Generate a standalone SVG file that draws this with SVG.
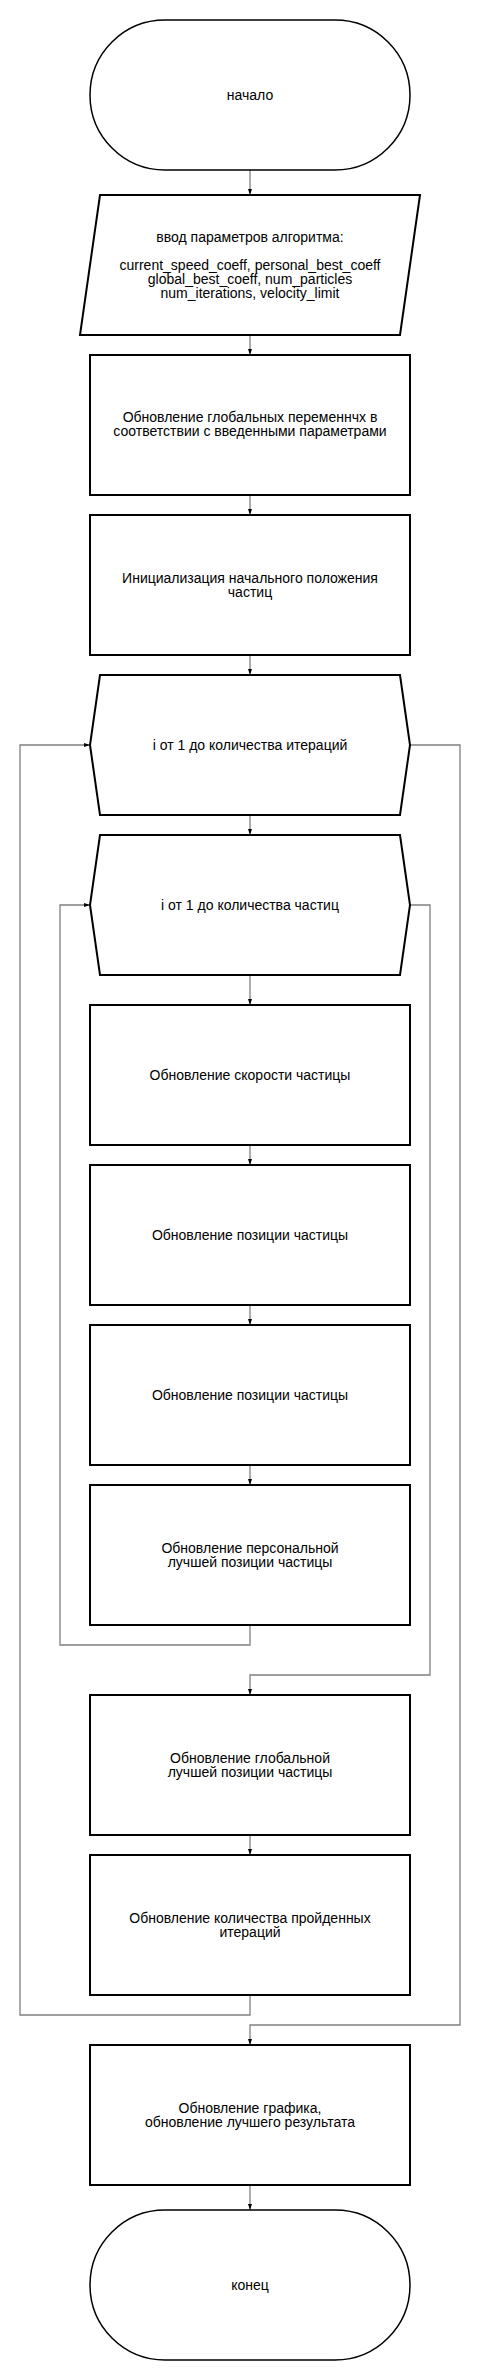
<svg xmlns="http://www.w3.org/2000/svg" width="480" height="2380" viewBox="0 0 480 2380">
<defs>
<style>
.n{fill:#fff;stroke:#000;stroke-width:2}
.t{fill:#fff;stroke:#000;stroke-width:1.5}
.c{fill:none;stroke:#808080;stroke-width:1.3}
text{font-family:"Liberation Sans",Arial,sans-serif;font-size:14px;fill:#000;text-anchor:middle}
</style>
<marker id="a" markerUnits="userSpaceOnUse" markerWidth="6" markerHeight="6" viewBox="0 0 6 6" refX="6" refY="3" orient="auto">
<path d="M0,1 L6,3 L0,5 Z" fill="#000"/>
</marker>
</defs>
<rect width="480" height="2380" fill="#fff"/>
<g id="connectors">
<path class="c" marker-end="url(#a)" d="M250,170 V195"/>
<path class="c" marker-end="url(#a)" d="M250,335 V355"/>
<path class="c" marker-end="url(#a)" d="M250,495 V515"/>
<path class="c" marker-end="url(#a)" d="M250,655 V675"/>
<path class="c" marker-end="url(#a)" d="M250,815 V835"/>
<path class="c" marker-end="url(#a)" d="M250,975 V1005"/>
<path class="c" marker-end="url(#a)" d="M250,1145 V1165"/>
<path class="c" marker-end="url(#a)" d="M250,1305 V1325"/>
<path class="c" marker-end="url(#a)" d="M250,1465 V1485"/>
<path class="c" marker-end="url(#a)" d="M250,1625 V1645 H60 V905 H90"/>
<path class="c" marker-end="url(#a)" d="M410,905 H430 V1675 H250 V1695"/>
<path class="c" marker-end="url(#a)" d="M250,1835 V1855"/>
<path class="c" marker-end="url(#a)" d="M250,1995 V2015 H20 V745 H90"/>
<path class="c" marker-end="url(#a)" d="M410,745 H460 V2025 H250 V2045"/>
<path class="c" marker-end="url(#a)" d="M250,2185 V2210"/>
</g>
<g id="start"><rect class="t" x="90" y="20" width="320" height="150" rx="75" ry="75"/><text x="250" y="100">начало</text></g>
<g id="input"><polygon class="n" points="100,195 420,195 400,335 80,335"/>
<text x="250" y="242">ввод параметров алгоритма:</text>
<text x="250" y="270">current_speed_coeff, personal_best_coeff</text>
<text x="250" y="284">global_best_coeff, num_particles</text>
<text x="250" y="298">num_iterations, velocity_limit</text></g>
<g id="globals"><rect class="n" x="90" y="355" width="320" height="140"/><text x="250" y="422">Обновление глобальных переменнчх в</text><text x="250" y="436">соответствии с введенными параметрами</text></g>
<g id="init"><rect class="n" x="90" y="515" width="320" height="140"/><text x="250" y="583">Инициализация начального положения</text><text x="250" y="597">частиц</text></g>
<g id="loop-iter"><polygon class="n" points="100,675 400,675 410,745 400,815 100,815 90,745"/><text x="250" y="750">i от 1 до количества итераций</text></g>
<g id="loop-part"><polygon class="n" points="100,835 400,835 410,905 400,975 100,975 90,905"/><text x="250" y="910">i от 1 до количества частиц</text></g>
<g id="speed"><rect class="n" x="90" y="1005" width="320" height="140"/><text x="250" y="1080">Обновление скорости частицы</text></g>
<g id="pos1"><rect class="n" x="90" y="1165" width="320" height="140"/><text x="250" y="1240">Обновление позиции частицы</text></g>
<g id="pos2"><rect class="n" x="90" y="1325" width="320" height="140"/><text x="250" y="1400">Обновление позиции частицы</text></g>
<g id="pbest"><rect class="n" x="90" y="1485" width="320" height="140"/><text x="250" y="1553">Обновление персональной</text><text x="250" y="1567">лучшей позиции частицы</text></g>
<g id="gbest"><rect class="n" x="90" y="1695" width="320" height="140"/><text x="250" y="1763">Обновление глобальной</text><text x="250" y="1777">лучшей позиции частицы</text></g>
<g id="iters"><rect class="n" x="90" y="1855" width="320" height="140"/><text x="250" y="1923">Обновление количества пройденных</text><text x="250" y="1937">итераций</text></g>
<g id="plot"><rect class="n" x="90" y="2045" width="320" height="140"/><text x="250" y="2113">Обновление графика,</text><text x="250" y="2127">обновление лучшего результата</text></g>
<g id="end"><rect class="t" x="90" y="2210" width="320" height="150" rx="75" ry="75"/><text x="250" y="2290">конец</text></g>
</svg>
